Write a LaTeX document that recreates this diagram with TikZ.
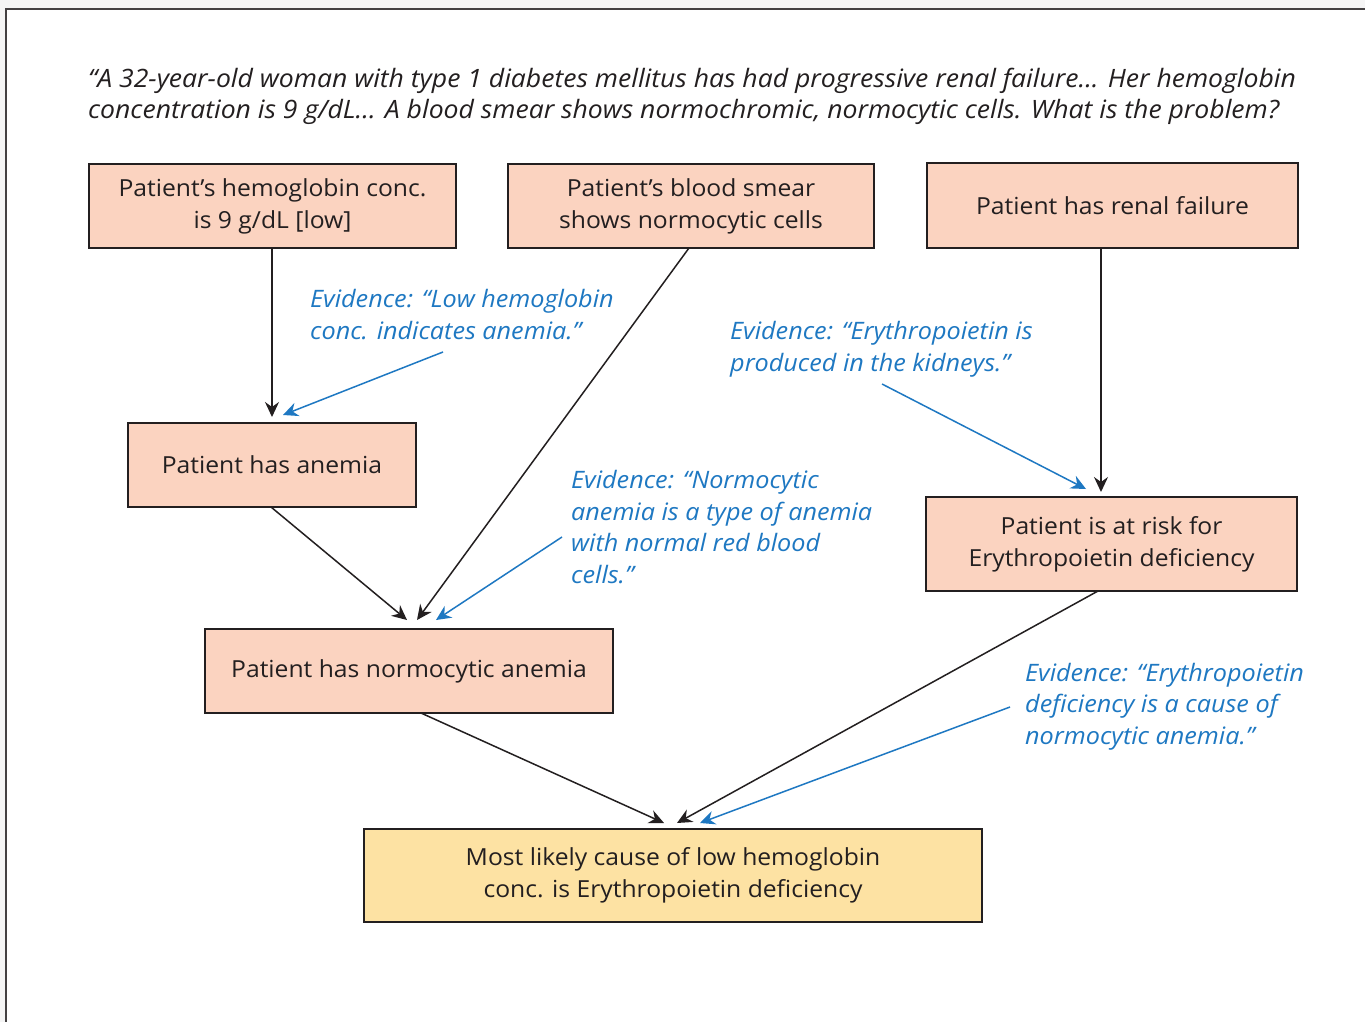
\documentclass[tikz,border=0pt]{standalone}
\usepackage{fontspec}
\setmainfont{Open Sans}[FakeStretch=1.05]
\usetikzlibrary{arrows.meta}
\definecolor{salmon}{HTML}{FBD3C0}
\definecolor{gold}{HTML}{FDE2A3}
\definecolor{evblue}{HTML}{1E78C2}
\definecolor{ink}{HTML}{231F20}
\begin{document}
\begin{tikzpicture}[x=1pt,y=-1pt,
  box/.style={draw=ink,line width=2pt,fill=salmon,align=center,inner sep=0pt,text=ink,
    anchor=north west,font=\fontsize{23.5}{32}\selectfont},
  goldbox/.style={box,fill=gold},
  evid/.style={text=evblue,align=left,anchor=base west,inner sep=0pt,
    font=\itshape\fontsize{24}{31.5}\selectfont},
  head/.style={text=ink,align=left,anchor=base west,inner sep=0pt,
    font=\itshape\fontsize{25.3}{32}\selectfont},
  arr/.style={draw=ink,line width=1.5pt,-{Stealth[length=15pt,width=14pt,inset=5pt]}},
  barr/.style={draw=evblue,line width=1.5pt,-{Stealth[length=15pt,width=14pt,inset=5pt]}}
]
\useasboundingbox (0,0) rectangle (1365,1022);
\fill[white] (0,0) rectangle (1365,1022);
\fill[black!4] (0,0) rectangle (6,1022);
\fill[black!4] (0,0) rectangle (1365,9);
\draw[line width=2pt,ink!85] (6,1022) -- (6,9) -- (1365,9);

\node[head] (hd) at (88,119) {“A 32-year-old woman with type 1 diabetes mellitus has had progressive renal failure... Her hemoglobin\\concentration is 9 g/dL... A blood smear shows normochromic, normocytic cells. What is the problem?};

\node[box,minimum width=367,minimum height=84] (b1) at (88,163) {Patient’s hemoglobin conc.\\is 9 g/dL [low]};
\node[box,minimum width=366,minimum height=84] (b2) at (507,163) {Patient’s blood smear\\shows normocytic cells};
\node[box,minimum width=371,minimum height=85] (b3) at (926,162) {Patient has renal failure};
\node[box,minimum width=288,minimum height=84] (b4) at (127,422) {Patient has anemia};
\node[box,minimum width=408,minimum height=84] (b5) at (204,628) {Patient has normocytic anemia};
\node[box,minimum width=371,minimum height=94] (b6) at (925,496) {Patient is at risk for\\Erythropoietin deficiency};
\node[goldbox,minimum width=618,minimum height=93] (b7) at (363,828) {Most likely cause of low hemoglobin\\conc. is Erythropoietin deficiency};

\node[evid] (e1) at (310,339) {Evidence: “Low hemoglobin\\conc. indicates anemia.”};
\node[evid] (e2) at (571,583) {Evidence: “Normocytic\\anemia is a type of anemia\\with normal red blood\\cells.”};
\node[evid] (e3) at (730,371) {Evidence: “Erythropoietin is\\produced in the kidneys.”};
\node[evid] (e4) at (1025,744) {Evidence: “Erythropoietin\\deficiency is a cause of\\normocytic anemia.”};

\coordinate (s1) at (443,352);
\coordinate (s2) at (562,537);
\coordinate (s3) at (882,384);
\coordinate (s4) at (1010,707);
\coordinate (t41) at (272,417);
\coordinate (t41b) at (283,415);
\coordinate (t51) at (407,620);
\coordinate (t52) at (417,620);
\coordinate (t53) at (436,620);
\coordinate (t61) at (1101,492);
\coordinate (t62) at (1086,489);
\coordinate (t71) at (664,823);
\coordinate (t72) at (677,823);
\coordinate (t73) at (700,823);
\coordinate (f1) at (272,247);
\coordinate (f2) at (689,248);
\coordinate (f3) at (1101,248);
\coordinate (f4) at (271,507);
\coordinate (f5) at (421,713);
\coordinate (f6) at (1098,591);

\draw[arr] (f1) -- (t41);
\draw[barr] (s1) -- (t41b);
\draw[arr] (f4) -- (t51);
\draw[arr] (f2) -- (t52);
\draw[barr] (s2) -- (t53);
\draw[arr] (f3) -- (t61);
\draw[barr] (s3) -- (t62);
\draw[arr] (f5) -- (t71);
\draw[arr] (f6) -- (t72);
\draw[barr] (s4) -- (t73);
\end{tikzpicture}
\end{document}
